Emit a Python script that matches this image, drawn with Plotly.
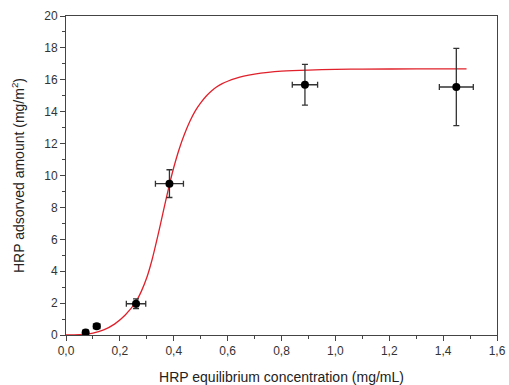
import plotly.graph_objects as go

# Measured adsorption data (mean ± error)
conc = [0.073, 0.114, 0.260, 0.384, 0.887, 1.449]
conc_err = [0.010, 0.012, 0.036, 0.052, 0.047, 0.063]
adsorbed = [0.15, 0.55, 1.96, 9.49, 15.69, 15.55]
adsorbed_err = [0.08, 0.12, 0.30, 0.87, 1.28, 2.42]

# Fitted sigmoidal isotherm, sampled points
fit_x = [0.0, 0.05, 0.10, 0.14, 0.18, 0.22, 0.26, 0.28, 0.30, 0.32, 0.34,
         0.36, 0.38, 0.40, 0.42, 0.44, 0.46, 0.48, 0.50, 0.52, 0.54, 0.56,
         0.58, 0.60, 0.63, 0.66, 0.70, 0.75, 0.80, 0.90, 1.00, 1.10, 1.30,
         1.487]
fit_y = [0.0, 0.02, 0.12, 0.32, 0.68, 1.25, 2.10, 2.75, 3.60, 4.75, 6.15,
         7.65, 9.15, 10.50, 11.65, 12.60, 13.40, 14.05, 14.55, 14.97, 15.30,
         15.56, 15.76, 15.91, 16.09, 16.23, 16.36, 16.47, 16.54, 16.61, 16.65,
         16.67, 16.68, 16.68]

x_ticks = [0.0, 0.2, 0.4, 0.6, 0.8, 1.0, 1.2, 1.4, 1.6]
y_ticks = [0, 2, 4, 6, 8, 10, 12, 14, 16, 18, 20]

FONT = "Liberation Sans, Arial, sans-serif"

fig = go.Figure()

fig.add_trace(go.Scatter(
    x=fit_x, y=fit_y, mode="lines",
    line=dict(color="#e0202a", width=1.3, shape="spline", smoothing=0.8),
    hoverinfo="skip", showlegend=False,
))

fig.add_trace(go.Scatter(
    x=conc, y=adsorbed, mode="markers",
    marker=dict(color="black", size=8),
    error_x=dict(type="data", array=conc_err, color="#333333", thickness=1.3, width=3),
    error_y=dict(type="data", array=adsorbed_err, color="#333333", thickness=1.3, width=3),
    showlegend=False,
))

axis_common = dict(
    showgrid=False, zeroline=False, showline=True, linecolor="#444444", linewidth=1,
    mirror=True, ticks="outside", ticklen=5, tickwidth=1, tickcolor="#444444",
    tickfont=dict(family=FONT, size=12, color="#333333"),
    automargin=False,
)

fig.update_xaxes(
    range=[0, 1.6], tickvals=x_ticks, tickformat=".1f",
    minor=dict(ticks="outside", ticklen=3, tickcolor="#444444", dtick=0.1),
    title=dict(text="HRP equilibrium concentration (mg/mL)",
               font=dict(family=FONT, size=14, color="#222222"),
               standoff=14),
    **axis_common,
)
fig.update_yaxes(
    range=[0, 20], tickvals=y_ticks,
    minor=dict(ticks="outside", ticklen=3, tickcolor="#444444", dtick=1),
    title=dict(text="HRP adsorved amount (mg/m<sup>2</sup>)",
               font=dict(family=FONT, size=14, color="#222222"),
               standoff=16),
    **axis_common,
)

fig.update_layout(
    width=509, height=385,
    margin=dict(l=66, r=12, t=16, b=50),
    paper_bgcolor="white", plot_bgcolor="white",
    separators=",.",
)

fig.write_html("out.html")
